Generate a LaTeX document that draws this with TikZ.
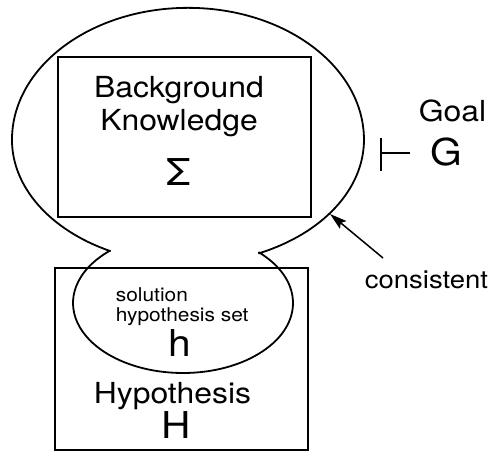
\documentclass[tikz,border=0pt]{standalone}
\usepackage{fontspec}
\setmainfont{TeX Gyre Heros}[FakeStretch=1.1]
\usetikzlibrary{arrows.meta}
\begin{document}
\begin{tikzpicture}[x=1pt, y=1pt, line width=1.8pt,
  frame/.style={draw, rectangle, inner sep=0pt, line width=1.7pt},
  big/.style={anchor=base, inner sep=0pt, font=\fontsize{29}{33}\selectfont},
  mid/.style={anchor=base, inner sep=0pt, font=\fontsize{25}{29}\selectfont},
  small/.style={anchor=base west, inner sep=0pt, font=\fontsize{19}{22}\selectfont},
  sym/.style={anchor=base, inner sep=0pt, font=\fontsize{37}{40}\selectfont},
  pointer/.style={line width=1.5pt, -{Stealth[length=17pt, width=10pt, inset=3pt]}}]
\useasboundingbox (0,0) rectangle (492,-452);

% rectangles for the two sets
\node[frame, minimum width=253pt, minimum height=160pt] (bk) at (184.5,-137) {};
\node[frame, minimum width=253pt, minimum height=182pt] (hyp) at (181.5,-359) {};

% outer blob: large egg on top, pinched into the solution set below
\draw[line join=round]
  (110,-251)
  arc[start angle=243.7, end angle=180, x radius=176, y radius=124]
  arc[start angle=180, end angle=0, x radius=176, y radius=132]
  arc[start angle=0, end angle=-66.2, x radius=176, y radius=124]
  -- (259,-252.4)
  arc[start angle=46.3, end angle=-228.4, x radius=110, y radius=70]
  -- cycle;

% labels inside the background knowledge box
\node[big] (bg1) at (179,-97) {Background};
\node[big] (bg2) at (179,-130) {Knowledge};
\node[sym] (sigma) at (179,-185) {Σ};

% labels of the solution hypothesis set
\node[small] (sol1) at (115,-301) {solution};
\node[small] (sol2) at (115,-321) {hypothesis set};
\node[sym] (hs) at (179.5,-356) {h};

% labels of the hypothesis box
\node[big] (hy1) at (172.5,-403) {Hypothesis};
\node[sym] (hy2) at (176,-438) {H};

% goal with the entailment sign
\node[anchor=base west, inner sep=0pt, font=\fontsize{29}{33}\selectfont] (goal) at (418,-121) {Goal};
\node[sym] (g) at (446.5,-165) {G};
\coordinate (tsTop) at (381,-138);
\coordinate (tsBot) at (381,-171);
\coordinate (tsMid) at (381,-153);
\coordinate (tsEnd) at (410,-153);
\draw (tsTop) -- (tsBot);
\draw (tsMid) -- (tsEnd);

% consistency arrow
\node[mid] (cons) at (426.5,-288) {consistent};
\coordinate (arrTail) at (383,-258);
\coordinate (arrTip) at (330,-214);
\draw[pointer] (arrTail) -- (arrTip);
\end{tikzpicture}
\end{document}
